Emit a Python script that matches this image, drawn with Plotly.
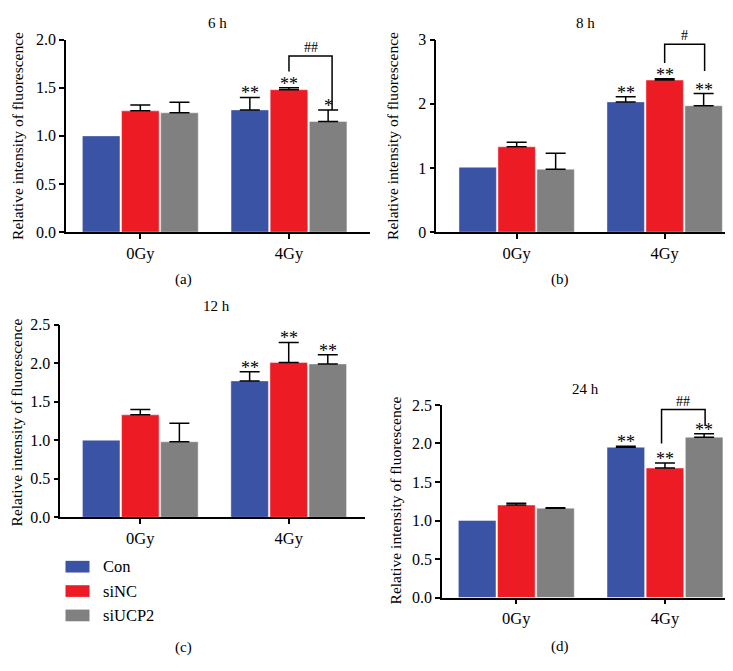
import numpy as np
import plotly.graph_objects as go

W, H = 733, 671
FONT = "Liberation Serif"

categories = ["0Gy", "4Gy"]
groups = ["Con", "siNC", "siUCP2"]
colors = ["#3A53A4", "#ED1C24", "#808080"]

# panel (a) 6 h  (None = no error bar drawn)
a_con = [1.00, 1.27]; a_con_err = [None, 0.13]
a_sinc = [1.26, 1.48]; a_sinc_err = [0.06, 0.02]
a_siucp2 = [1.24, 1.15]; a_siucp2_err = [0.11, 0.12]
# panel (b) 8 h
b_con = [1.01, 2.03]; b_con_err = [None, 0.08]
b_sinc = [1.33, 2.37]; b_sinc_err = [0.07, 0.02]
b_siucp2 = [0.98, 1.97]; b_siucp2_err = [0.25, 0.19]
# panel (c) 12 h
c_con = [1.00, 1.77]; c_con_err = [None, 0.12]
c_sinc = [1.33, 2.01]; c_sinc_err = [0.07, 0.26]
c_siucp2 = [0.98, 1.99]; c_siucp2_err = [0.24, 0.12]
# panel (d) 24 h
d_con = [1.00, 1.95]; d_con_err = [None, 0.015]
d_sinc = [1.20, 1.68]; d_sinc_err = [0.025, 0.065]
d_siucp2 = [1.16, 2.08]; d_siucp2_err = [0.005, 0.045]

# significance marks (per group, per category)
a_stars = [["", "**"], ["", "**"], ["", "*"]]
b_stars = [["", "**"], ["", "**"], ["", "**"]]
c_stars = [["", "**"], ["", "**"], ["", "**"]]
d_stars = [["", "**"], ["", "**"], ["", "**"]]

panels = [
    dict(title="6 h", label="(a)", vals=[a_con, a_sinc, a_siucp2], errs=[a_con_err, a_sinc_err, a_siucp2_err],
         stars=a_stars, px=(58, 362), py=(221.7, 24.3), xr=[-0.5, 1.545], yr=[0, 2.0], dtick=0.5, fmt=".1f",
         title_xy=(209, 7), label_xy=(175, 270), ytitle_xy=(10, 123),
         bracket=dict(sig="##", top=1.83, left=1.67, right=1.27, xl=0.0, xr=0.29)),
    dict(title="8 h", label="(b)", vals=[b_con, b_sinc, b_siucp2], errs=[b_con_err, b_sinc_err, b_siucp2_err],
         stars=b_stars, px=(428.3, 731.7), py=(221.7, 24.3), xr=[-0.543, 1.507], yr=[0, 3], dtick=1, fmt="d",
         title_xy=(577, 7), label_xy=(552, 270), ytitle_xy=(385, 123),
         bracket=dict(sig="#", top=2.93, left=2.635, right=2.51, xl=0.0, xr=0.27)),
    dict(title="12 h", label="(c)", vals=[c_con, c_sinc, c_siucp2], errs=[c_con_err, c_sinc_err, c_siucp2_err],
         stars=c_stars, px=(52.3, 356.7), py=(514.3, 316.7), xr=[-0.539, 1.512], yr=[0, 2.5], dtick=0.5, fmt=".1f",
         title_xy=(208, 298), label_xy=(175, 648), ytitle_xy=(8, 417), bracket=None),
    dict(title="24 h", label="(d)", vals=[d_con, d_sinc, d_siucp2], errs=[d_con_err, d_sinc_err, d_siucp2_err],
         stars=d_stars, px=(434, 731), py=(596.7, 399), xr=[-0.5, 1.498], yr=[0, 2.5], dtick=0.5, fmt=".1f",
         title_xy=(577, 383), label_xy=(552, 647), ytitle_xy=(387, 497),
         bracket=dict(sig="##", top=2.44, left=2.00, right=2.226, xl=-0.023, xr=0.27)),
]

BARGAP = 0.21
BARGROUPGAP = 0.04
slot = (1 - BARGAP) / 3
offsets = [-slot, 0.0, slot]

fig = go.Figure()
annotations = []
shapes = []
xpos = list(range(len(categories)))

for i, p in enumerate(panels):
    n = "" if i == 0 else str(i + 1)
    xa, ya = "x" + n, "y" + n
    for g in range(3):
        err = np.array([np.nan if e is None else e for e in p["errs"][g]], dtype=float)
        errm = np.where(np.isnan(err), np.nan, 0.0)
        fig.add_trace(go.Bar(
            x=xpos, y=p["vals"][g], name=groups[g], showlegend=False,
            marker=dict(color=colors[g], line=dict(width=0.6, color="rgba(255,255,255,0.7)")),
            error_y=dict(type="data", array=err, arrayminus=errm, symmetric=False,
                         color="black", thickness=1.5, width=10),
            xaxis=xa, yaxis=ya, hoverinfo="skip"))
        for k in xpos:
            s = p["stars"][g][k]
            if s:
                e = p["errs"][g][k] or 0
                annotations.append(dict(x=k + offsets[g], y=p["vals"][g][k] + e, xref=xa, yref=ya,
                                        text=s, showarrow=False, yanchor="bottom", yshift=-8,
                                        font=dict(family=FONT, size=18, color="black")))
    br = p["bracket"]
    if br:
        x0 = 1 + br["xl"]; x1 = 1 + br["xr"]
        shapes.append(dict(type="path", xref=xa, yref=ya,
                           path=f"M {x0},{br['left']} L {x0},{br['top']} L {x1},{br['top']} L {x1},{br['right']}",
                           line=dict(color="black", width=1.5)))
        annotations.append(dict(x=(x0 + x1) / 2, y=br["top"], xref=xa, yref=ya, text=br["sig"], showarrow=False,
                                yanchor="bottom", yshift=-1, font=dict(family=FONT, size=14, color="black")))
    dom_x = [p["px"][0] / W, p["px"][1] / W]
    dom_y = [1 - p["py"][0] / H, 1 - p["py"][1] / H]
    ticks = []
    v = p["yr"][0]
    while v <= p["yr"][1] + 1e-9:
        ticks.append(round(v, 3))
        v += p["dtick"]
    ticktext = [format(t, ".1f") if p["fmt"] == ".1f" else str(int(t)) for t in ticks]
    fig.layout["xaxis" + n] = dict(domain=dom_x, range=p["xr"], anchor=ya, tickvals=xpos, ticktext=categories,
                                   showline=True, linecolor="black", linewidth=1.5, ticks="outside", ticklen=5,
                                   tickwidth=1.5, tickcolor="black", showgrid=False, zeroline=False, fixedrange=True,
                                   tickfont=dict(family=FONT, size=16.5, color="black"))
    fig.layout["yaxis" + n] = dict(domain=dom_y, range=p["yr"], anchor=xa, tickvals=ticks, ticktext=ticktext,
                                   showline=True, linecolor="black", linewidth=1.5, ticks="outside", ticklen=5,
                                   tickwidth=1.5, tickcolor="black", showgrid=False, zeroline=False, fixedrange=True,
                                   tickfont=dict(family=FONT, size=16, color="black"))
    annotations.append(dict(x=p["title_xy"][0] / W, y=1 - p["title_xy"][1] / H, xref="paper", yref="paper",
                            text=p["title"], showarrow=False, xanchor="center", yanchor="middle",
                            font=dict(family=FONT, size=15, color="black")))
    annotations.append(dict(x=p["label_xy"][0] / W, y=1 - p["label_xy"][1] / H, xref="paper", yref="paper",
                            text=p["label"], showarrow=False, xanchor="center", yanchor="middle",
                            font=dict(family=FONT, size=15, color="black")))
    annotations.append(dict(x=p["ytitle_xy"][0] / W, y=1 - p["ytitle_xy"][1] / H, xref="paper", yref="paper",
                            text="Relative intensity of fluorescence", showarrow=False, textangle=-90,
                            xanchor="center", yanchor="middle", font=dict(family=FONT, size=15.5, color="black")))

# legend (drawn manually)
leg_y = [565, 590, 615]
for g in range(3):
    shapes.append(dict(type="rect", xref="paper", yref="paper", x0=57.5 / W, x1=81.5 / W,
                       y0=1 - (leg_y[g] + 6) / H, y1=1 - (leg_y[g] - 6) / H,
                       fillcolor=colors[g], line=dict(width=0)))
    annotations.append(dict(x=93 / W, y=1 - leg_y[g] / H, xref="paper", yref="paper", text=groups[g],
                            showarrow=False, xanchor="left", yanchor="middle",
                            font=dict(family=FONT, size=16.5, color="black")))

fig.update_layout(width=W, height=H, margin=dict(l=0, r=0, t=0, b=0), paper_bgcolor="white",
                  plot_bgcolor="white", barmode="group", bargap=BARGAP, bargroupgap=BARGROUPGAP,
                  annotations=annotations, shapes=shapes, showlegend=False)
fig.write_html("out.html")
